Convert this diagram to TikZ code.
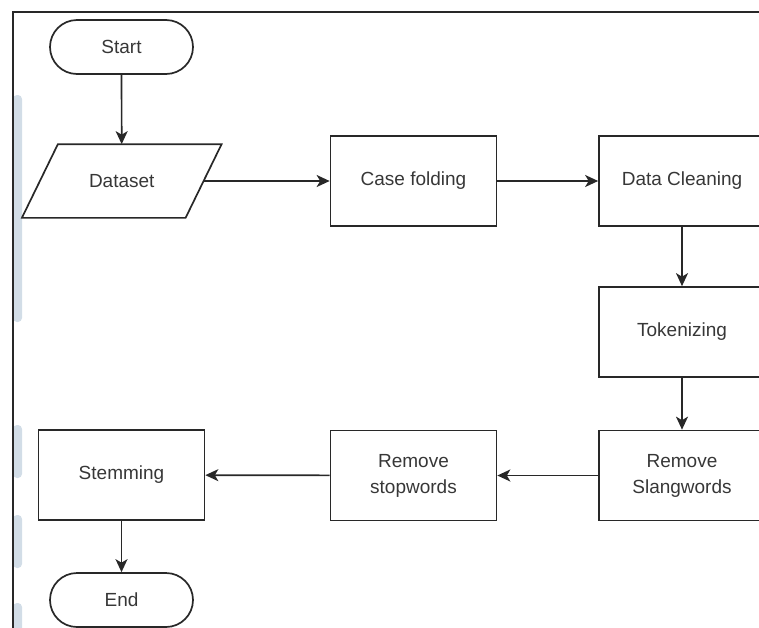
\documentclass[tikz,border=0pt]{standalone}
\usepackage{fontspec}
\setmainfont{Liberation Sans}
\usetikzlibrary{arrows.meta}

\definecolor{linegray}{RGB}{40,40,40}
\definecolor{textgray}{RGB}{55,55,55}
\definecolor{markblue}{RGB}{210,221,231}

\tikzset{
    process/.style={draw=linegray, line width=1.7pt, minimum width=166pt, minimum height=90pt,
        inner sep=0pt, align=center, text=textgray, font=\fontsize{19}{26}\selectfont},
    terminal/.style={process, minimum width=143pt, minimum height=54pt, rounded corners=27pt},
    flow/.style={draw=linegray, line width=1.7pt, -{Stealth[length=13pt, width=12pt, inset=3.5pt]}}
}

\begin{document}
\begin{tikzpicture}[x=1pt, y=-1pt]
    \useasboundingbox (0, 0) rectangle (759, 627);
    \clip (0, 0) rectangle (759, 627);

    % faint marks on the left edge
    \fill[markblue, rounded corners=4pt] (13, 95) rectangle (22, 322);
    \fill[markblue, rounded corners=4pt] (13, 425) rectangle (22, 478);
    \fill[markblue, rounded corners=4pt] (13, 515) rectangle (22, 568);
    \fill[markblue, rounded corners=4pt] (13, 603) rectangle (22, 640);

    % outer frame
    \draw[linegray, line width=1.2pt] (13, 640) -- (13, 12) -- (770, 12);

    % nodes
    \node[terminal] (start) at (121.5, 47) {Start};
    \node[process, draw=none, minimum width=162pt, minimum height=72pt] (dataset) at (121.75, 181) {Dataset};
    \draw[linegray, line width=1.7pt] ([xshift=18pt]dataset.north west) -- ([xshift=18pt]dataset.north east)
        -- ([xshift=-18pt]dataset.south east) -- ([xshift=-18pt]dataset.south west) -- cycle;
    \node[process] (casefold) at (413.5, 181) {Case folding};
    \node[process] (cleaning) at (682, 181) {Data Cleaning};
    \node[process] (token) at (682, 332) {Tokenizing};
    \node[process] (slang) at (682, 475.5) {Remove\\Slangwords};
    \node[process] (stop) at (413.5, 475.5) {Remove\\stopwords};
    \node[process] (stem) at (121.5, 475) {Stemming};
    \node[terminal] (end) at (121.5, 600) {End};

    % connectors
    \draw[flow] (start) -- (dataset);
    \draw[flow] (dataset.east) -- (casefold);
    \draw[flow] (casefold) -- (cleaning);
    \draw[flow] (cleaning) -- (token);
    \draw[flow] (token) -- (slang);
    \draw[flow] (slang) -- (stop);
    \draw[flow] (stop) -- (stem);
    \draw[flow] (stem) -- (end);
\end{tikzpicture}
\end{document}
